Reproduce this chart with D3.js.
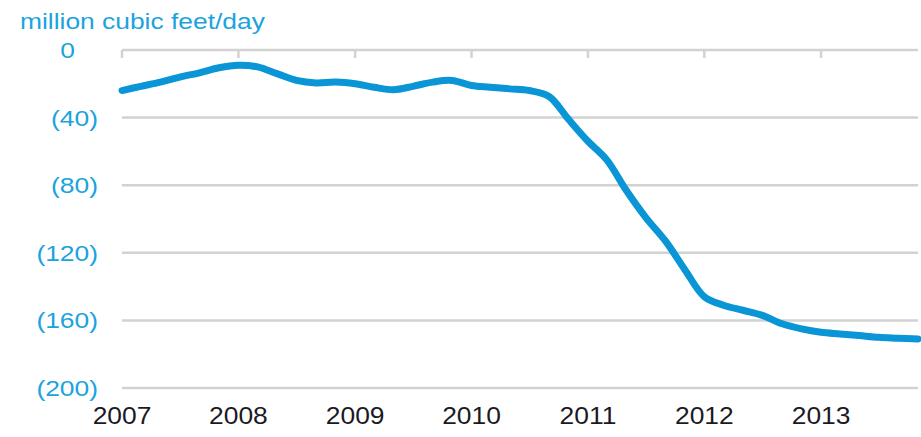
<!DOCTYPE html>
<html>
<head>
<meta charset="utf-8">
<script src="https://cdnjs.cloudflare.com/ajax/libs/d3/7.8.5/d3.min.js"></script>
<style>
  body { margin: 0; background: #fff; }
  svg { display: block; font-family: "Liberation Sans", Arial, sans-serif; }
</style>
</head>
<body>
<div id="chart"></div>
<script>
// chart size
var width = 921, height = 437;

// data: bi-monthly readings (million cubic feet/day, negative = decline)
var months = ["2007-01","2007-03","2007-05","2007-07","2007-09","2007-11",
              "2008-01","2008-03","2008-05","2008-07","2008-09","2008-11",
              "2009-01","2009-03","2009-05","2009-07","2009-09","2009-11",
              "2010-01","2010-03","2010-05","2010-07","2010-09","2010-11",
              "2011-01","2011-03","2011-05","2011-07","2011-09","2011-11",
              "2012-01","2012-03","2012-05","2012-07","2012-09","2012-11",
              "2013-01","2013-03","2013-05","2013-07","2013-09","2013-11"];
var values = [-24, -21.5, -19, -16, -13.5, -10.5,
              -9, -10, -14, -18, -19.5, -19,
              -20, -22, -23.5, -21.5, -19, -18,
              -21, -22, -23, -24, -27.5, -41,
              -54, -65, -83, -99, -113, -130,
              -146, -151, -154, -157, -162, -165,
              -167, -168, -169, -170, -170.5, -171];
var yTicks = [0, -40, -80, -120, -160, -200];
var yearTicks = ["2007","2008","2009","2010","2011","2012","2013"];
var unitLabel = "million cubic feet/day";

var parseMonth = d3.timeParse("%Y-%m");
var parseYear = d3.timeParse("%Y");

var points = months.map(function (m, i) {
    return { date: parseMonth(m), value: values[i] };
});

var blue = "#1ba3de", lineBlue = "#0a95d6", grid = "#d2d2d2";

var svg = d3.select("#chart").append("svg")
    .attr("width", width)
    .attr("height", height);

var x = d3.scaleTime()
    .domain([parseMonth(months[0]), parseMonth(months[months.length - 1])])
    .range([122, 918]);
var y = d3.scaleLinear()
    .domain([0, -200])
    .range([50, 388]);

function fmt(v) {
    return v === 0 ? "0" : "(" + Math.abs(v) + ")";
}

// horizontal gridlines
svg.selectAll("line.grid")
    .data(yTicks)
    .enter().append("line")
    .attr("class", "grid")
    .attr("x1", x.range()[0])
    .attr("x2", x.range()[1])
    .attr("y1", function (d) { return y(d); })
    .attr("y2", function (d) { return y(d); })
    .style("stroke", grid)
    .style("stroke-width", 2.5);

// year tick marks hanging from the zero line
svg.selectAll("line.tick")
    .data(yearTicks)
    .enter().append("line")
    .attr("class", "tick")
    .attr("x1", function (d) { return x(parseYear(d)); })
    .attr("x2", function (d) { return x(parseYear(d)); })
    .attr("y1", y(0))
    .attr("y2", y(0) + 8)
    .style("stroke", grid)
    .style("stroke-width", 2.5);

// y labels (text is stretched a little, like the source)
svg.selectAll("text.ylab")
    .data(yTicks)
    .enter().append("text")
    .attr("class", "ylab")
    .attr("transform", function (d) {
        var tx = d === 0 ? 75 : 98;
        return "translate(" + tx + "," + (y(d) + 8) + ") scale(1.2,1)";
    })
    .attr("text-anchor", "end")
    .style("font-size", "22px")
    .style("fill", blue)
    .text(fmt);

// x labels
svg.selectAll("text.xlab")
    .data(yearTicks)
    .enter().append("text")
    .attr("class", "xlab")
    .attr("transform", function (d) {
        return "translate(" + x(parseYear(d)) + ",424) scale(1.1,1)";
    })
    .attr("text-anchor", "middle")
    .style("font-size", "24px")
    .style("fill", "#1a1a24")
    .text(function (d) { return d; });

// unit label
svg.append("text")
    .attr("transform", "translate(20,29) scale(1.2,1)")
    .style("font-size", "22px")
    .style("fill", blue)
    .text(unitLabel);

// the series
var line = d3.line()
    .x(function (d) { return x(d.date); })
    .y(function (d) { return y(d.value); })
    .curve(d3.curveCatmullRom.alpha(0.5));

svg.append("path")
    .datum(points)
    .attr("d", line)
    .style("fill", "none")
    .style("stroke", lineBlue)
    .style("stroke-width", 7)
    .style("stroke-linecap", "round")
    .style("stroke-linejoin", "round");
</script>
</body>
</html>
